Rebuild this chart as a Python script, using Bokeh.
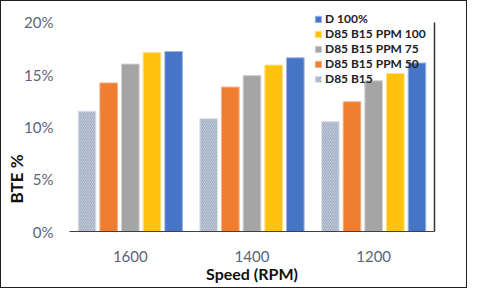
from bokeh.plotting import figure
from bokeh.models import (ColumnDataSource, FactorRange, Range1d, LinearAxis, FixedTicker,
                          PrintfTickFormatter, Legend, LegendItem, Title)
from bokeh.transform import dodge
from bokeh.embed import file_html
from bokeh.resources import INLINE

# ---- data (BTE %) ----
speeds = ["1600", "1400", "1200"]
series_names = ["D85 B15", "D85 B15 PPM 50", "D85 B15 PPM 75", "D85 B15 PPM 100", "D 100%"]
d85_b15 = [11.5, 10.8, 10.5]
ppm50 = [14.2, 13.8, 12.4]
ppm75 = [16.0, 14.9, 14.4]
ppm100 = [17.1, 15.9, 15.1]
d100 = [17.2, 16.6, 16.1]
y_ticks = [0, 5, 10, 15, 20]

src = ColumnDataSource(dict(speed=speeds, s0=d85_b15, s1=ppm50, s2=ppm75, s3=ppm100, s4=d100))

FONT = "Lato"
TICK_COLOR = "#5a6579"

p = figure(x_range=FactorRange(*speeds), y_range=Range1d(0, 21.5),
           width=467, height=288, output_backend="svg", toolbar_location=None,
           min_border_left=68, min_border_right=34, min_border_top=5, min_border_bottom=58)
p.styles = {"border": "1.5px solid #1e1e1e", "box-sizing": "border-box"}
p.outline_line_color = None
p.xgrid.visible = False
p.ygrid.visible = False

step = 0.178
bw = 0.145
styles = [
    dict(fill_color="#e6eaf1", hatch_pattern="\\", hatch_color="#8f9db6", hatch_scale=3.5,
         hatch_weight=1, line_color="#dfe4ec"),
    dict(fill_color="#ef7d32", line_color="#f6b38a"),
    dict(fill_color="#a5a5a5", line_color="#d0d0d0"),
    dict(fill_color="#ffc20e", line_color="#ffdf80"),
    dict(fill_color="#4674c6", line_color="#a0b6e0"),
]
renderers = []
for i, col in enumerate(["s0", "s1", "s2", "s3", "s4"]):
    r = p.vbar(x=dodge("speed", (i - 2) * step, range=p.x_range), top=col, width=bw,
               source=src, line_width=1, **styles[i])
    renderers.append(r)

# axes
xa = p.xaxis[0]
xa.axis_label = "Speed (RPM)"
xa.axis_label_text_font = FONT
xa.axis_label_text_font_style = "bold"
xa.axis_label_text_font_size = "16px"
xa.axis_label_text_color = "#111111"
xa.axis_label_standoff = -1
xa.axis_line_color = "#404040"
xa.axis_line_width = 1.2
xa.major_tick_line_color = None
xa.minor_tick_line_color = None
xa.major_tick_in = 0
xa.major_tick_out = 0
xa.major_label_standoff = 19
xa.major_label_text_font = FONT
xa.major_label_text_font_size = "15px"
xa.major_label_text_color = TICK_COLOR

ya = p.yaxis[0]
ya.ticker = FixedTicker(ticks=y_ticks)
ya.formatter = PrintfTickFormatter(format="%d%%")
ya.axis_line_color = None
ya.major_tick_line_color = None
ya.minor_tick_line_color = None
ya.major_tick_in = 0
ya.major_tick_out = 0
ya.major_label_standoff = 16
ya.major_label_text_font = FONT
ya.major_label_text_font_size = "15px"
ya.major_label_text_color = TICK_COLOR

# y-axis title, placed off-centre like the reference
ytitle = Title(text="BTE %", align="left", offset=28, vertical_align="bottom", standoff=-10,
               text_font=FONT, text_font_style="bold", text_font_size="17px",
               text_color="#111111")
p.add_layout(ytitle, "left")

ra = LinearAxis(ticker=FixedTicker(ticks=[]), bounds=(0, 20))
ra.axis_line_color = "#333333"
ra.axis_line_width = 1.5
ra.major_tick_line_color = None
ra.minor_tick_line_color = None
ra.major_label_text_font_size = "0px"
p.add_layout(ra, "right")

items = [LegendItem(label=series_names[i], renderers=[renderers[i]]) for i in [4, 3, 2, 1, 0]]
legend = Legend(items=items, location=(245, 145), orientation="vertical")
legend.label_text_font = FONT
legend.label_text_font_style = "bold"
legend.label_text_font_size = "12px"
legend.label_text_color = "#222222"
legend.glyph_width = 8
legend.glyph_height = 8
legend.label_height = 15
legend.label_standoff = 3
legend.spacing = 0
legend.padding = 0
legend.margin = 0
legend.border_line_color = None
legend.background_fill_alpha = 0
p.add_layout(legend, "center")

open("out.html", "w").write(file_html(p, INLINE))
